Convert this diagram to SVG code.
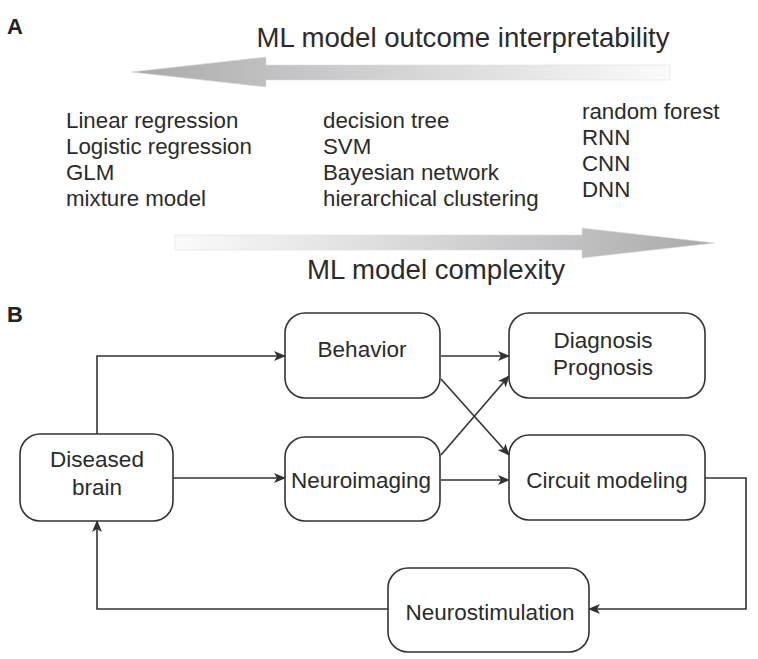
<svg xmlns="http://www.w3.org/2000/svg" width="758" height="659" viewBox="0 0 758 659">
<style>
text{font-family:"Liberation Sans",Arial,sans-serif;fill:#2b2b2b}
.lbl{font-weight:bold;font-size:22px;fill:#222}
.big{font-size:27.6px}
.lst{font-size:22.3px}
.node rect{fill:#fff;stroke:#333;stroke-width:1.6}
.node text{font-size:22.5px;text-anchor:middle}
.conn path{fill:none;stroke:#333;stroke-width:1.6}
</style>
<defs>
<linearGradient id="gl" x1="130" y1="0" x2="670" y2="0" gradientUnits="userSpaceOnUse">
<stop offset="0" stop-color="#a9a9a9"/><stop offset="0.3" stop-color="#c4c4c6"/><stop offset="1" stop-color="#fbfbfb"/>
</linearGradient>
<linearGradient id="gr" x1="175" y1="0" x2="715" y2="0" gradientUnits="userSpaceOnUse">
<stop offset="0" stop-color="#fbfbfb"/><stop offset="0.7" stop-color="#c4c4c6"/><stop offset="1" stop-color="#a9a9a9"/>
</linearGradient>
<marker id="ah" markerWidth="12" markerHeight="12" refX="11" refY="6" orient="auto" markerUnits="userSpaceOnUse">
<path d="M0,1 L12,6 L0,11 L3,6 Z" fill="#333"/>
</marker>
</defs>

<text class="lbl" x="7" y="34">A</text>
<text class="big" x="463" y="47" text-anchor="middle">ML model outcome interpretability</text>
<path d="M131,72 L266,57 L266,65 L670,65 L670,80 L266,80 L266,87 Z" fill="url(#gl)" stroke="#ddd" stroke-width="0.6"/>

<g class="lst">
<text x="66" y="128">Linear regression</text>
<text x="66" y="154">Logistic regression</text>
<text x="66" y="180">GLM</text>
<text x="66" y="206">mixture model</text>
<text x="323" y="128">decision tree</text>
<text x="323" y="154">SVM</text>
<text x="323" y="180">Bayesian network</text>
<text x="323" y="206">hierarchical clustering</text>
<text x="582" y="119">random forest</text>
<text x="582" y="145">RNN</text>
<text x="582" y="171">CNN</text>
<text x="582" y="197">DNN</text>
</g>

<path d="M175,235 L582,235 L582,228 L715,243 L582,258 L582,250 L175,250 Z" fill="url(#gr)" stroke="#ddd" stroke-width="0.6"/>
<text class="big" x="436" y="279" text-anchor="middle">ML model complexity</text>

<text class="lbl" x="7" y="322">B</text>

<g class="conn">
<path d="M97,434 L97,356 L285,356" marker-end="url(#ah)"/>
<path d="M172,478 L285,478" marker-end="url(#ah)"/>
<path d="M441,356 L509,356" marker-end="url(#ah)"/>
<path d="M441,379 L509,455" marker-end="url(#ah)"/>
<path d="M441,455 L509,376" marker-end="url(#ah)"/>
<path d="M441,480 L509,480" marker-end="url(#ah)"/>
<path d="M705,478 L746,478 L746,609 L589,609" marker-end="url(#ah)"/>
<path d="M388,609 L97,609 L97,521" marker-end="url(#ah)"/>
</g>

<g id="diseased" class="node">
<rect x="20" y="434" width="153" height="87" rx="20"/>
<text x="97" y="467">Diseased</text>
<text x="97" y="495">brain</text>
</g>
<g id="behavior" class="node">
<rect x="285" y="313" width="155" height="85" rx="20"/>
<text x="362" y="357">Behavior</text>
</g>
<g id="neuroimaging" class="node">
<rect x="285" y="437" width="155" height="84" rx="20"/>
<text x="361" y="488">Neuroimaging</text>
</g>
<g id="diagnosis" class="node">
<rect x="509" y="313" width="196" height="85" rx="20"/>
<text x="603" y="348">Diagnosis</text>
<text x="603" y="375">Prognosis</text>
</g>
<g id="circuit" class="node">
<rect x="509" y="435" width="196" height="85" rx="20"/>
<text x="607" y="488">Circuit modeling</text>
</g>
<g id="neurostim" class="node">
<rect x="388" y="568" width="201" height="84" rx="20"/>
<text x="490" y="620">Neurostimulation</text>
</g>
</svg>
